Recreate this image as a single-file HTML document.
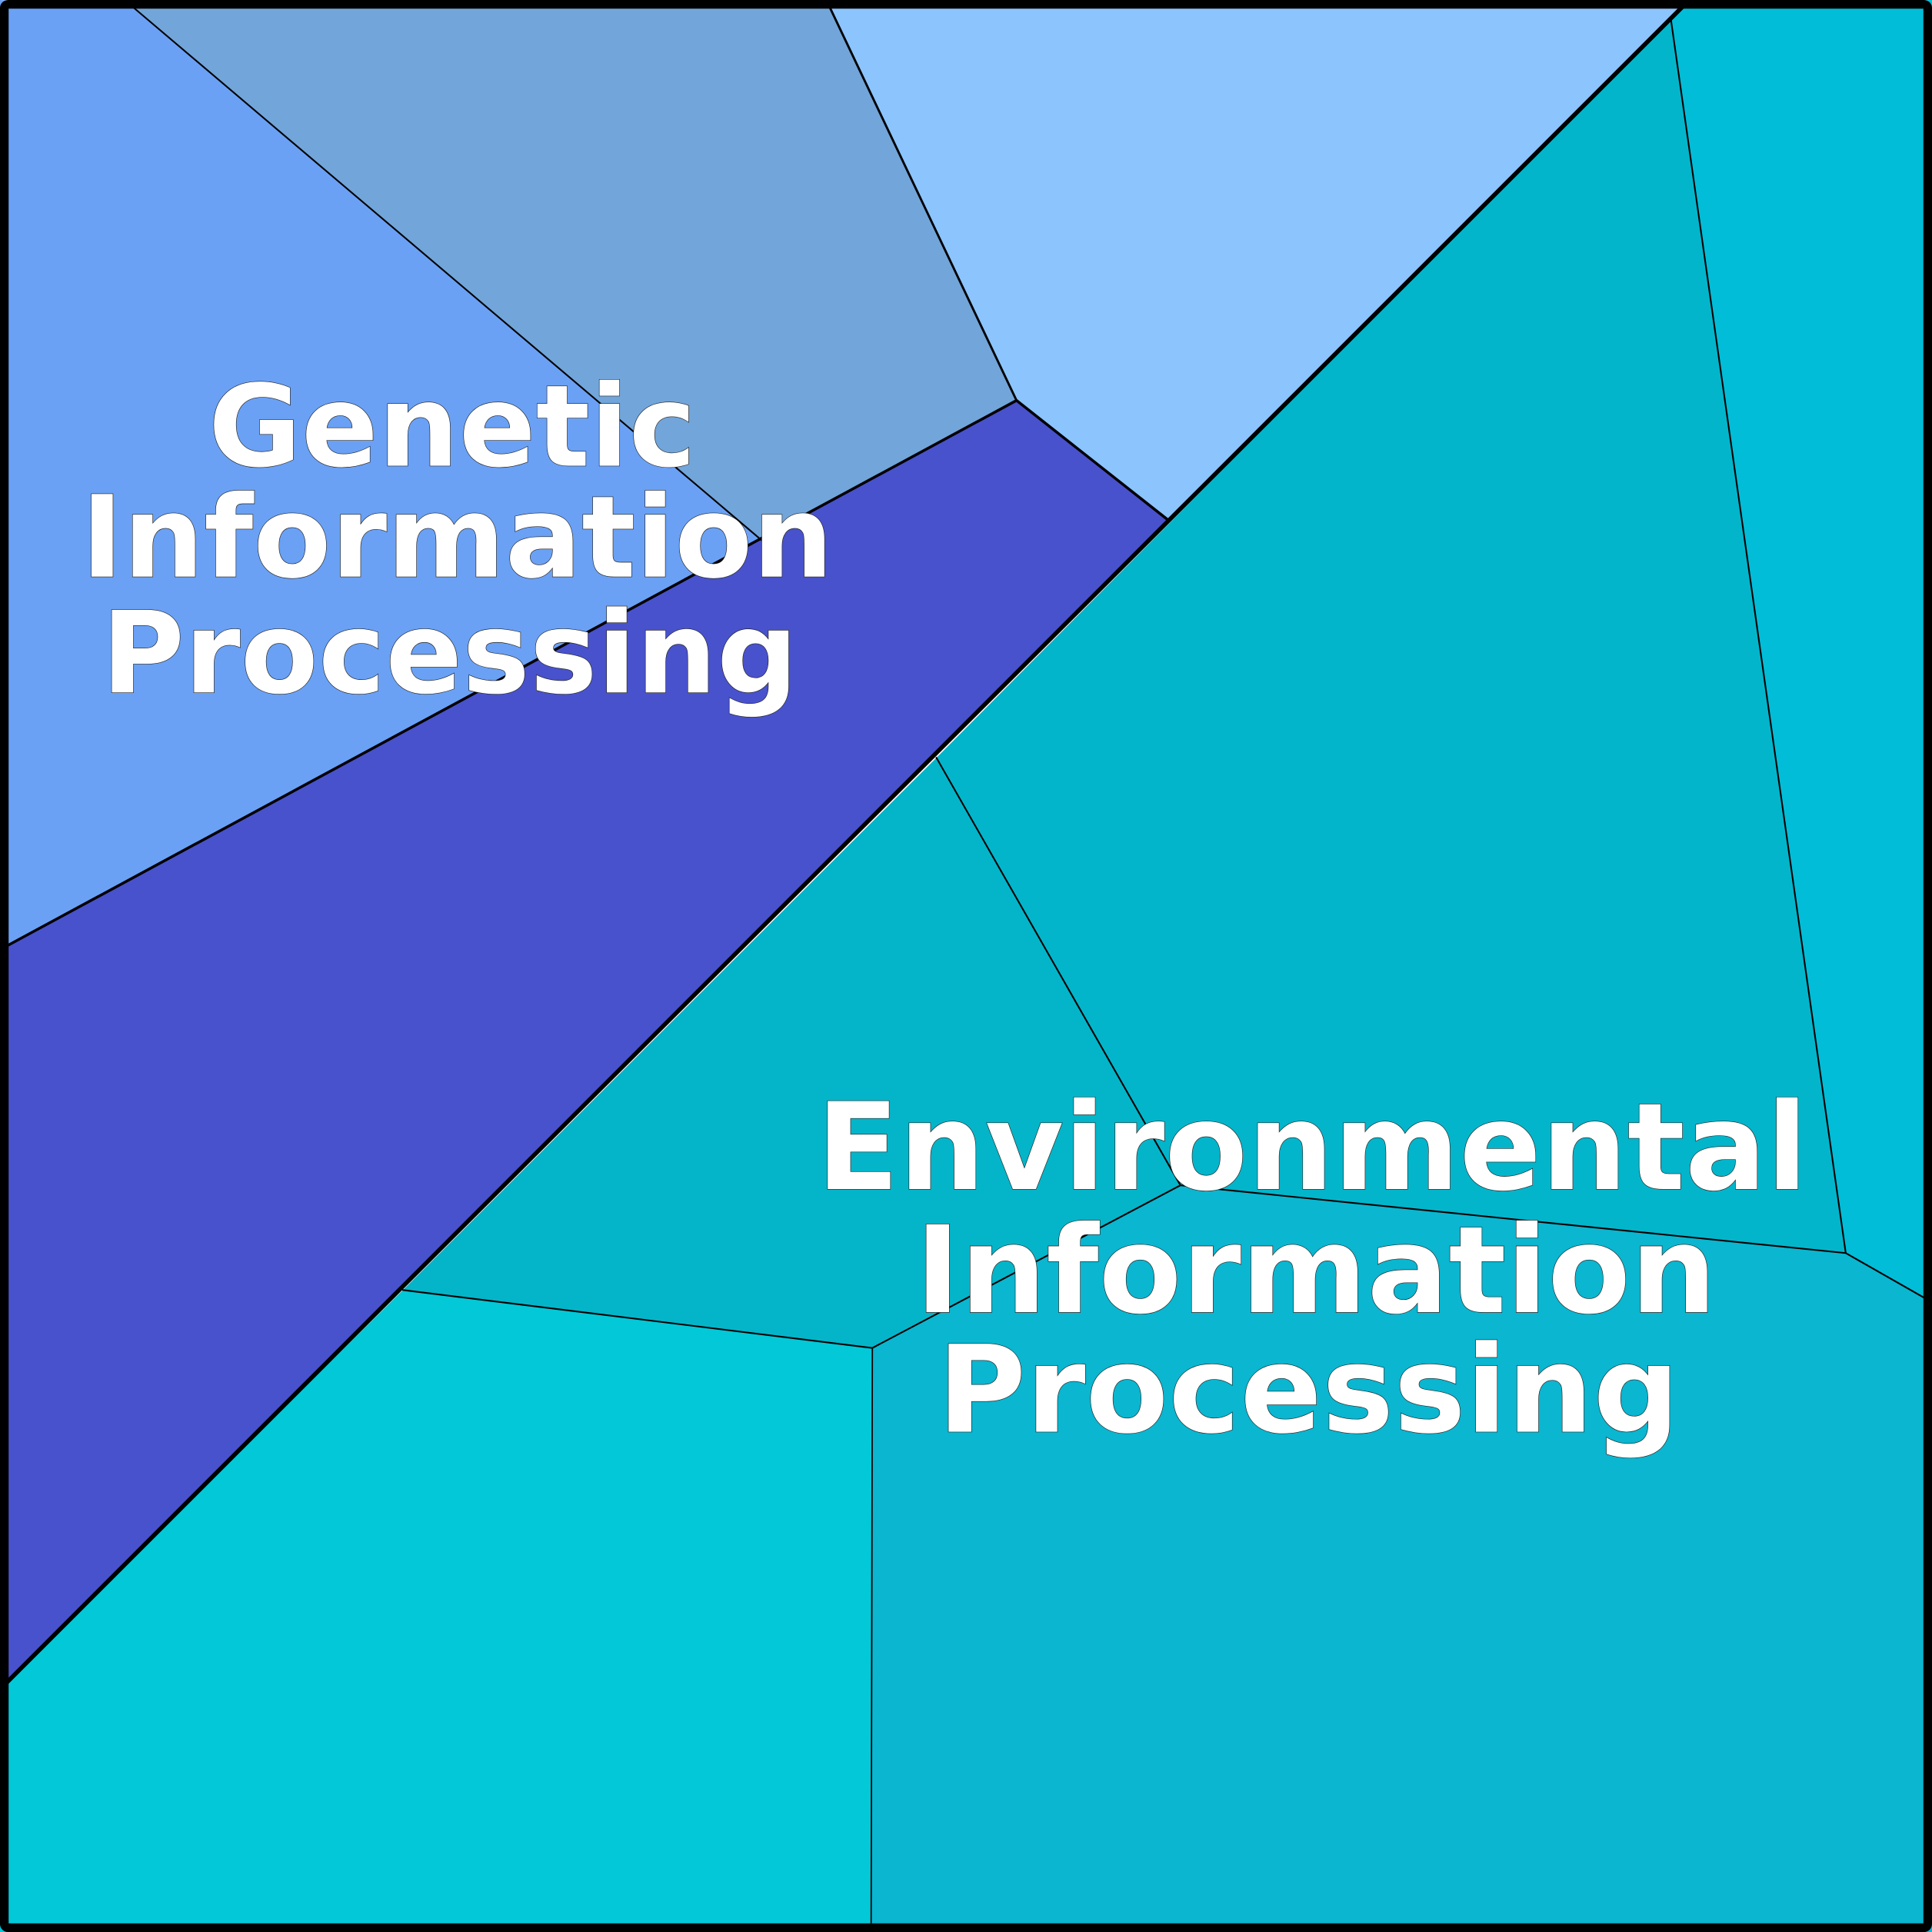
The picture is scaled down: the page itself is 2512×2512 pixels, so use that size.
<!DOCTYPE html>
<html><head><meta charset="utf-8"><style>
html,body{margin:0;padding:0;background:#fff;overflow:hidden}
svg{display:block}
</style></head><body>
<svg width="2512" height="2512" viewBox="0 0 1568 1568" preserveAspectRatio="none" xmlns="http://www.w3.org/2000/svg">
<g stroke="none">
<polygon points="0,0 107,5 620,440 5,768 0,768" fill="#6aa1f5"/>
<polygon points="107,5 673,5 825,325 620,440" fill="#72a5d9"/>
<polygon points="673,5 1366,5 948,422 825,325" fill="#8cc4fd"/>
<polygon points="5,768 825,325 948,422 5,1366" fill="#4852cc"/>
<polygon points="1356,15 1498,1017 958,962 760,615" fill="#03b5cb"/>
<polygon points="1356,15 1366,5 1568,0 1568,1054 1563,1054 1498,1017" fill="#01bdd8"/>
<polygon points="760,615 958,962 708,1094 327,1047" fill="#04b5c9"/>
<polygon points="327,1047 708,1094 707,1568 0,1568 0,1366 5,1366" fill="#02c8d8"/>
<polygon points="708,1094 958,962 1498,1017 1563,1054 1568,1054 1568,1568 707,1568" fill="#0ab6d0"/>
</g>
<g stroke="#000" fill="none" stroke-linecap="round">
<line x1="107" y1="5" x2="620" y2="440" stroke-width="1.3"/>
<line x1="673" y1="5" x2="825" y2="325" stroke-width="1.8"/>
<polyline points="5,768 825,325 948,422" stroke-width="2.2"/>
<line x1="1366" y1="5" x2="5" y2="1366" stroke-width="3.5"/>
<polyline points="1356,15 1498,1017 1563,1054" stroke-width="1.3"/>
<polyline points="760,615 958,962 1498,1017" stroke-width="1.3"/>
<polyline points="958,962 708,1094 327,1047" stroke-width="1.3"/>
<line x1="708" y1="1094" x2="707" y2="1563" stroke-width="1.1"/>
</g>
<rect x="3.5" y="3.5" width="1561" height="1561" fill="none" stroke="#000" stroke-width="7" rx="3"/>
<g font-family="'DejaVu Sans','Liberation Sans',sans-serif" font-weight="bold" fill="#fff" text-anchor="middle" stroke="#222" stroke-width="0.8" paint-order="stroke">
<text x="367" y="378" font-size="92">Genetic</text>
<text x="371" y="468" font-size="92">Information</text>
<text x="365" y="562" font-size="92">Processing</text>
<text x="1065" y="965" font-size="98">Environmental</text>
<text x="1068" y="1065" font-size="98">Information</text>
<text x="1062" y="1162" font-size="98">Processing</text>
</g>
</svg>
</body></html>
